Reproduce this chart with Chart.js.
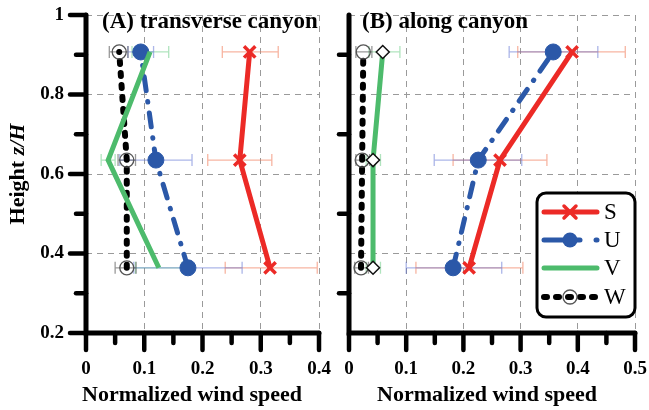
<!DOCTYPE html>
<html><head><meta charset="utf-8">
<script src="https://cdn.jsdelivr.net/npm/chart.js@4"></script>
<style>
html,body{margin:0;padding:0;background:#fff;width:649px;height:410px;overflow:hidden}
#a{position:absolute;left:0;top:0}
#b{position:absolute;left:330px;top:0}
</style></head>
<body>
<canvas id="a" width="335" height="410"></canvas>
<canvas id="b" width="319" height="410"></canvas>
<script>
// ---------- data ----------
const heights = [0.364, 0.635, 0.907];
const seriesNames = ['S', 'U', 'V', 'W'];

// (A) transverse canyon
const aS = [0.316, 0.264, 0.281];
const aSLo = [0.239, 0.209, 0.234];
const aSHi = [0.397, 0.319, 0.330];
const aU = [0.175, 0.120, 0.094];
const aULo = [0.082, 0.058, 0.072];
const aUHi = [0.268, 0.182, 0.116];
const aV = [0.125, 0.038, 0.110];
const aVLo = [0.085, 0.026, 0.079];
const aVHi = [0.165, 0.050, 0.142];
const aW = [0.070, 0.070, 0.057];
const aWLo = [0.050, 0.055, 0.040];
const aWHi = [0.086, 0.085, 0.072];

// (B) along canyon
const bS = [0.210, 0.264, 0.390];
const bSLo = [0.117, 0.182, 0.295];
const bSHi = [0.304, 0.346, 0.483];
const bU = [0.182, 0.226, 0.357];
const bULo = [0.100, 0.149, 0.280];
const bUHi = [0.267, 0.302, 0.435];
const bV = [0.042, 0.042, 0.059];
const bVLo = [0.030, 0.030, 0.035];
const bVHi = [0.055, 0.055, 0.089];
const bW = [0.021, 0.023, 0.025];
const bWLo = [0.010, 0.012, 0.012];
const bWHi = [0.034, 0.036, 0.040];

const xTickLabelsA = ['0', '0.1', '0.2', '0.3', '0.4'];
const xTickLabelsB = ['0', '0.1', '0.2', '0.3', '0.4', '0.5'];
const yTickLabels = ['0.2', '0.4', '0.6', '0.8', '1'];

const titleA = '(A) transverse canyon';
const titleB = '(B) along canyon';
const xTitle = 'Normalized wind speed';

// ---------- styles ----------
const RED = '#ec2a26', BLUE = '#2b58a8', GREEN = '#4dbb6c', BLACK = '#000';
const SERIF = '"Liberation Serif","Times New Roman",serif';

function pts(vals) { return vals.map((v, i) => ({ x: v, y: heights[i] })); }

function makeDatasets(S, SLo, SHi, U, ULo, UHi, V, VLo, VHi, W, WLo, WHi, vMarker) {
  return [
    { label: 'S', data: pts(S), errLo: SLo, errHi: SHi, errColor: 'rgba(240,120,85,0.55)',
      borderColor: RED, borderWidth: 5, pointStyle: 'crossRot', pointRadius: 8,
      pointBorderWidth: 3.5, pointBorderColor: RED, pointBackgroundColor: RED, tension: 0 },
    { label: 'V', data: pts(V), errLo: VLo, errHi: VHi, errColor: 'rgba(80,195,110,0.45)',
      borderColor: GREEN, borderWidth: 5, tension: 0,
      pointStyle: 'rectRot', pointRadius: vMarker ? 6.5 : 0, pointBorderWidth: 1.5,
      pointBorderColor: '#111', pointBackgroundColor: '#fff' },
    { label: 'U', data: pts(U), errLo: ULo, errHi: UHi, errColor: 'rgba(90,110,210,0.5)',
      borderColor: BLUE, borderWidth: 5, borderDash: [14, 11, 0.5, 11], borderCapStyle: 'round',
      pointStyle: 'circle', pointRadius: 8, pointBorderWidth: 1,
      pointBorderColor: BLUE, pointBackgroundColor: BLUE, tension: 0 },
    { label: 'W', data: pts(W), errLo: WLo, errHi: WHi, errColor: 'rgba(70,70,70,0.55)',
      borderColor: BLACK, borderWidth: 6, borderDash: [3, 9], borderCapStyle: 'round',
      pointStyle: 'circle', pointRadius: 7, pointBorderWidth: 1.3,
      pointBorderColor: '#555', pointBackgroundColor: 'rgba(255,255,255,0)', tension: 0 }
  ];
}

const errorBars = {
  id: 'errorBars',
  beforeDatasetsDraw(chart) {
    const ctx = chart.ctx, xs = chart.scales.x, ys = chart.scales.y;
    ctx.save();
    chart.data.datasets.forEach(ds => {
      ctx.strokeStyle = ds.errColor; ctx.lineWidth = 1.3;
      heights.forEach((h, i) => {
        const y = ys.getPixelForValue(h);
        const x1 = xs.getPixelForValue(ds.errLo[i]), x2 = xs.getPixelForValue(ds.errHi[i]);
        ctx.beginPath();
        ctx.moveTo(x1, y); ctx.lineTo(x2, y);
        ctx.moveTo(x1, y - 6); ctx.lineTo(x1, y + 6);
        ctx.moveTo(x2, y - 6); ctx.lineTo(x2, y + 6);
        ctx.stroke();
      });
    });
    ctx.restore();
  }
};

function axesPlugin(yMajorTicks, title, titleX, xTitleCenter, drawYTitle, drawLegend) {
  return {
    id: 'axesDeco',
    afterDraw(chart) {
      const ctx = chart.ctx, xs = chart.scales.x, ys = chart.scales.y, ca = chart.chartArea;
      ctx.save();
      ctx.strokeStyle = '#000'; ctx.lineCap = 'round';
      // axis lines
      ctx.lineWidth = 5;
      ctx.beginPath();
      ctx.moveTo(ca.left, ca.top); ctx.lineTo(ca.left, ca.bottom); ctx.lineTo(ca.right, ca.bottom);
      ctx.stroke();
      // x ticks
      ctx.lineWidth = 4.5;
      xs.ticks.forEach(t => {
        const major = Math.abs(t.value * 10 - Math.round(t.value * 10)) < 1e-6;
        const x = xs.getPixelForValue(t.value);
        ctx.beginPath(); ctx.moveTo(x, ca.bottom); ctx.lineTo(x, ca.bottom + (major ? 17 : 10)); ctx.stroke();
      });
      // y ticks
      ys.ticks.forEach(t => {
        const k = Math.round(t.value * 10);
        const major = k % 2 === 0;
        if (major && !yMajorTicks) return;
        const y = ys.getPixelForValue(t.value);
        ctx.beginPath(); ctx.moveTo(ca.left, y); ctx.lineTo(ca.left - (major ? 16 : 10), y); ctx.stroke();
      });
      // panel title
      ctx.fillStyle = '#000';
      ctx.font = 'bold 23px ' + SERIF;
      ctx.textAlign = 'left'; ctx.textBaseline = 'alphabetic';
      ctx.fillText(title, titleX, 28);
      // x axis title
      ctx.font = 'bold 22px ' + SERIF;
      ctx.textAlign = 'center';
      ctx.fillText(xTitle, xTitleCenter, 401);
      // y axis title
      if (drawYTitle) {
        ctx.save();
        ctx.translate(24, 174);
        ctx.rotate(-Math.PI / 2);
        ctx.textAlign = 'left'; ctx.textBaseline = 'alphabetic';
        const p1 = 'Height ', p2 = 'z/H';
        ctx.font = 'bold 22px ' + SERIF; const w1 = ctx.measureText(p1).width;
        ctx.font = 'bold italic 22px ' + SERIF; const w2 = ctx.measureText(p2).width;
        const x0 = -(w1 + w2) / 2;
        ctx.font = 'bold 22px ' + SERIF; ctx.fillText(p1, x0, 0);
        ctx.font = 'bold italic 22px ' + SERIF; ctx.fillText(p2, x0 + w1, 0);
        ctx.restore();
      }
      if (drawLegend) drawLegendBox(ctx);
      ctx.restore();
    }
  };
}

function drawLegendBox(ctx) {
  const L = 207, T = 193, R = 305, B = 317;
  ctx.save();
  ctx.beginPath();
  ctx.roundRect(L, T, R - L, B - T, 9);
  ctx.fillStyle = '#fff'; ctx.fill();
  ctx.lineWidth = 3; ctx.strokeStyle = '#000'; ctx.stroke();
  const x1 = L + 7, x2 = L + 60, mx = L + 33, tx = L + 67;
  const rows = [212, 240, 268, 297];
  ctx.lineCap = 'round';
  // S
  ctx.strokeStyle = RED; ctx.lineWidth = 5;
  ctx.beginPath(); ctx.moveTo(x1, rows[0]); ctx.lineTo(x2, rows[0]); ctx.stroke();
  ctx.lineWidth = 3.5;
  ctx.beginPath(); ctx.moveTo(mx - 6, rows[0] - 6); ctx.lineTo(mx + 6, rows[0] + 6);
  ctx.moveTo(mx - 6, rows[0] + 6); ctx.lineTo(mx + 6, rows[0] - 6); ctx.stroke();
  // U
  ctx.strokeStyle = BLUE; ctx.lineWidth = 5;
  ctx.beginPath(); ctx.moveTo(x1, rows[1]); ctx.lineTo(L + 43, rows[1]); ctx.stroke();
  ctx.beginPath(); ctx.moveTo(x2 - 1, rows[1]); ctx.lineTo(x2, rows[1]); ctx.stroke();
  ctx.fillStyle = BLUE; ctx.beginPath(); ctx.arc(mx, rows[1], 7.5, 0, Math.PI * 2); ctx.fill();
  // V
  ctx.strokeStyle = GREEN; ctx.lineWidth = 5;
  ctx.beginPath(); ctx.moveTo(x1, rows[2]); ctx.lineTo(x2, rows[2]); ctx.stroke();
  // W
  ctx.strokeStyle = BLACK; ctx.lineWidth = 6; ctx.setLineDash([3, 9]);
  ctx.beginPath(); ctx.moveTo(x1, rows[3]); ctx.lineTo(x2 + 1, rows[3]); ctx.stroke();
  ctx.setLineDash([]);
  ctx.strokeStyle = '#555'; ctx.lineWidth = 1.3;
  ctx.beginPath(); ctx.arc(mx, rows[3], 7, 0, Math.PI * 2); ctx.stroke();
  // text
  ctx.fillStyle = '#000'; ctx.font = '23px ' + SERIF;
  ctx.textAlign = 'left'; ctx.textBaseline = 'middle';
  seriesNames.forEach((n, i) => ctx.fillText(n, tx, rows[i] + 1));
  ctx.restore();
}

function isMult(v, step) { return Math.abs(v / step - Math.round(v / step)) < 1e-6; }

function makeOptions(xmax, xLabels, yAxisWidth, rightPad, showYLabels) {
  return {
    responsive: false, animation: false,
    layout: { padding: { top: 15, right: rightPad, left: 0, bottom: 0 } },
    plugins: { legend: { display: false }, tooltip: { enabled: false } },
    scales: {
      x: {
        type: 'linear', min: 0, max: xmax,
        afterFit(s) { s.height = 77; s.paddingLeft = 0; s.paddingRight = 0; },
        border: { display: false, dash: [6, 5] },
        grid: {
          drawTicks: false, lineWidth: 1,
          color: c => (c.tick && c.tick.value > 1e-6 && isMult(c.tick.value, 0.1)) ? '#9a9a9a' : 'rgba(0,0,0,0)'
        },
        ticks: {
          stepSize: 0.05, padding: 25, maxRotation: 0, autoSkip: false,
          color: '#000', font: { family: SERIF, size: 19, weight: 'bold' },
          callback: v => isMult(v, 0.1) ? xLabels[Math.round(v * 10)] : ''
        }
      },
      y: {
        type: 'linear', min: 0.2, max: 1.0,
        afterFit(s) { s.width = yAxisWidth; s.paddingTop = 0; s.paddingBottom = 0; },
        border: { display: false, dash: [6, 5] },
        grid: {
          drawTicks: false, lineWidth: 1,
          color: c => {
            if (!c.tick) return 'rgba(0,0,0,0)';
            const k = Math.round(c.tick.value * 10);
            return (k % 2 === 0 && k > 2) ? '#9a9a9a' : 'rgba(0,0,0,0)';
          }
        },
        ticks: {
          display: showYLabels, stepSize: 0.1, padding: 22, autoSkip: false,
          color: '#000', font: { family: SERIF, size: 19, weight: 'bold' },
          callback: v => {
            const k = Math.round(v * 10);
            return k % 2 === 0 ? yTickLabels[(k - 2) / 2] : '';
          }
        }
      }
    }
  };
}

new Chart(document.getElementById('a'), {
  type: 'line',
  data: { datasets: makeDatasets(aS, aSLo, aSHi, aU, aULo, aUHi, aV, aVLo, aVHi, aW, aWLo, aWHi, false) },
  options: makeOptions(0.4, xTickLabelsA, 86, 16, true),
  plugins: [errorBars, axesPlugin(true, titleA, 102, 192, true, false)]
});

new Chart(document.getElementById('b'), {
  type: 'line',
  data: { datasets: makeDatasets(bS, bSLo, bSHi, bU, bULo, bUHi, bV, bVLo, bVHi, bW, bWLo, bWHi, true) },
  options: makeOptions(0.5, xTickLabelsB, 19, 14, false),
  plugins: [errorBars, axesPlugin(false, titleB, 32, 157, false, true)]
});
</script>
</body></html>
